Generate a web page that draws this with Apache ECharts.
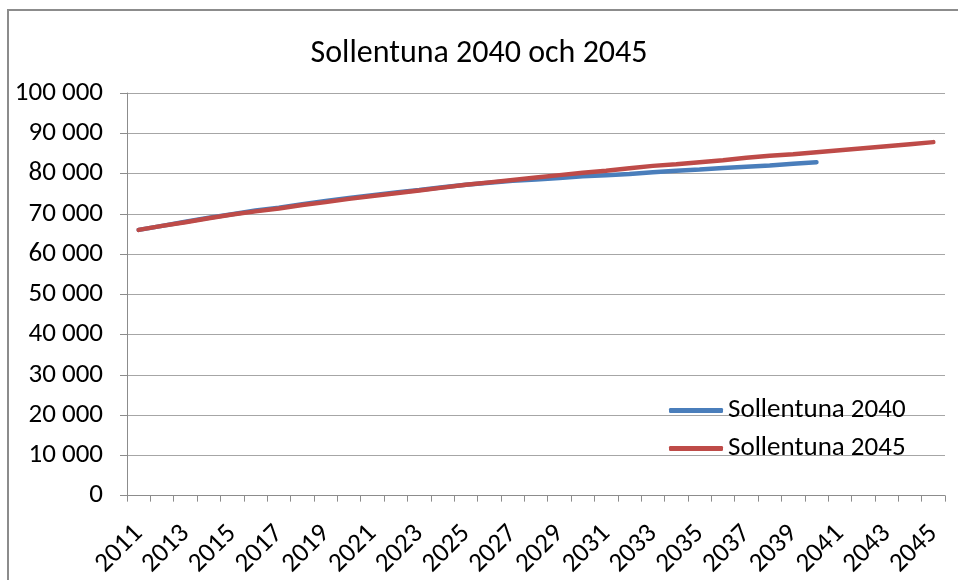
<!DOCTYPE html>
<html>
<head>
<meta charset="utf-8">
<script src="https://cdn.jsdelivr.net/npm/echarts@6/dist/echarts.min.js"></script>
<style>html,body{margin:0;padding:0;background:#fff}#c{width:958px;height:580px}</style>
</head>
<body>
<div id="c"></div>
<script>
const years = ['2011','2012','2013','2014','2015','2016','2017','2018','2019','2020','2021','2022','2023','2024','2025','2026','2027','2028','2029','2030','2031','2032','2033','2034','2035','2036','2037','2038','2039','2040','2041','2042','2043','2044','2045'];
const sollentuna2040 = [66000,67000,68000,69000,69900,70800,71500,72400,73200,73900,74600,75300,75900,76600,77200,77700,78200,78500,78900,79300,79600,79900,80300,80700,81000,81400,81700,82000,82400,82800];
const sollentuna2045 = [66000,67000,67900,68900,69800,70600,71300,72200,72900,73700,74400,75100,75800,76500,77200,77800,78400,79000,79600,80200,80700,81300,81900,82300,82800,83300,83900,84400,84800,85300,85800,86300,86800,87300,87800];
const yTicks = [0,10000,20000,30000,40000,50000,60000,70000,80000,90000,100000];
const seriesNames = ['Sollentuna 2040','Sollentuna 2045'];
const titleText = 'Sollentuna 2040 och 2045';

const FONT = 'Carlito, Calibri, Lato, sans-serif';
const chart = echarts.init(document.getElementById('c'), null, {renderer:'canvas'});
chart.setOption({
  animation:false,
  backgroundColor:'#fff',
  graphic:[{type:'rect',shape:{x:8,y:10,width:1000,height:620},style:{fill:'none',stroke:'#8c8c8c',lineWidth:2},silent:true}],
  title:{text:titleText,left:'center',top:33,textStyle:{fontFamily:FONT,fontSize:32,fontWeight:'normal',color:'#000'}},
  grid:{left:127,right:13,top:93,bottom:84,containLabel:false},
  legend:{orient:'vertical',left:664,top:392,itemWidth:54,itemHeight:5,itemGap:11,icon:'roundRect',
    textStyle:{fontFamily:FONT,fontSize:27,color:'#000',padding:[0,0,0,0]},data:seriesNames},
  xAxis:{type:'category',data:years,boundaryGap:true,
    axisLine:{lineStyle:{color:'#8c8c8c',width:1}},
    axisTick:{show:true,interval:0,length:6,lineStyle:{color:'#8c8c8c'}},
    axisLabel:{interval:1,rotate:45,margin:34,fontFamily:FONT,fontSize:27,color:'#000'},
    splitLine:{show:false}},
  yAxis:{type:'value',min:yTicks[0],max:yTicks[yTicks.length-1],interval:10000,
    axisLine:{show:true,lineStyle:{color:'#8c8c8c',width:1}},
    axisTick:{show:true,length:7,lineStyle:{color:'#8c8c8c'}},
    axisLabel:{margin:24,fontFamily:FONT,fontSize:27,color:'#000',
      formatter:v=>String(v).replace(/\B(?=(\d{3})+(?!\d))/g,' ')},
    splitLine:{lineStyle:{color:'#a6a6a6',width:1}}},
  series:[
    {name:seriesNames[0],type:'line',data:sollentuna2040,showSymbol:false,symbol:'none',
      lineStyle:{color:'#4a7ebb',width:4.5,cap:'round'},itemStyle:{color:'#4a7ebb'},z:2},
    {name:seriesNames[1],type:'line',data:sollentuna2045,showSymbol:false,symbol:'none',
      lineStyle:{color:'#be4b48',width:4.5,cap:'round'},itemStyle:{color:'#be4b48'},z:3}
  ]
});
</script>
</body>
</html>
